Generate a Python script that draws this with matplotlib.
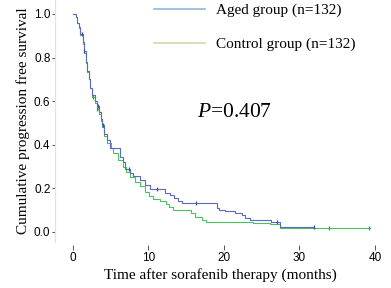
import matplotlib
matplotlib.use("Agg")
import matplotlib.pyplot as plt
from matplotlib.lines import Line2D

plt.rcParams["mathtext.fontset"] = "custom"
plt.rcParams["mathtext.it"] = "Liberation Serif:italic"
plt.rcParams["mathtext.rm"] = "Liberation Serif"

# Aged group (n=132): step times and survival levels
aged_t = [0, 0.4, 0.6, 0.8, 1.0, 1.3, 1.5, 1.7, 1.9, 2.1, 2.3, 2.6, 2.9, 3.2, 3.5, 3.7, 3.9, 4.2, 4.5,
          4.9, 6.3, 6.6, 6.9, 7.6, 8.0, 8.9, 9.6, 10.2, 12.2, 12.9, 13.4, 13.9, 14.4, 19.05, 19.4,
          20.1, 21.5, 22.4, 22.8, 23.5, 26.3, 27.4, 32.0]
aged_s = [1.0, 0.985, 0.96, 0.94, 0.91, 0.87, 0.83, 0.78, 0.74, 0.70, 0.66, 0.63, 0.60, 0.58, 0.55,
          0.52, 0.49, 0.45, 0.42, 0.385, 0.345, 0.32, 0.29, 0.27, 0.255, 0.24, 0.217, 0.198, 0.18,
          0.168, 0.155, 0.143, 0.132, 0.11, 0.10, 0.094, 0.086, 0.078, 0.063, 0.055, 0.047, 0.022, 0.022]
aged_cens_t = [1.2, 1.5, 3.3, 4.0, 7.4, 11.1, 16.3, 27.1, 31.9]

# Control group (n=132)
ctrl_t = [0, 0.4, 0.6, 0.8, 1.0, 1.3, 1.5, 1.7, 1.9, 2.1, 2.3, 2.6, 2.9, 3.2, 3.5, 3.7, 3.9, 4.2, 4.5,
          5.0, 5.3, 6.0, 6.7, 7.1, 7.6, 8.2, 8.9, 9.5, 10.1, 10.6, 11.5, 12.4, 12.8, 13.3, 15.6, 16.2,
          17.1, 17.6, 23.8, 26.1, 27.4, 39.3]
ctrl_s = [1.0, 0.985, 0.96, 0.935, 0.905, 0.86, 0.82, 0.775, 0.735, 0.70, 0.66, 0.62, 0.59, 0.565,
          0.54, 0.51, 0.48, 0.44, 0.41, 0.385, 0.36, 0.33, 0.30, 0.275, 0.25, 0.23, 0.21, 0.185, 0.165,
          0.15, 0.143, 0.13, 0.115, 0.10, 0.088, 0.07, 0.055, 0.045, 0.04, 0.036, 0.02, 0.02]
ctrl_cens_t = [2.7, 3.2, 33.9, 39.2]

x_ticks = [0, 10, 20, 30, 40]
y_ticks = [0.0, 0.2, 0.4, 0.6, 0.8, 1.0]
p_value = "0.407"

def surv_at(ts, ss, t):
    v = ss[0]
    for ti, si in zip(ts, ss):
        if ti <= t:
            v = si
    return v

blue = "#5a6cc0"
green = "#4cc25e"
blue_leg = "#8fb6dc"
green_leg = "#cddcae"

fig = plt.figure(figsize=(3.91, 2.88), dpi=100)
ax = fig.add_axes([0.1407, 0.1597, 0.847, 0.8403])

ax.step(aged_t, aged_s, where="post", color=blue, lw=0.8, zorder=3)
ax.step(ctrl_t, ctrl_s, where="post", color=green, lw=0.8, zorder=2)
ax.plot(aged_cens_t, [surv_at(aged_t, aged_s, t) for t in aged_cens_t], ls="none",
        marker="|", ms=3, mew=0.9, color="#3f4f9a", zorder=4)
ax.plot(ctrl_cens_t, [surv_at(ctrl_t, ctrl_s, t) for t in ctrl_cens_t], ls="none",
        marker="|", ms=3, mew=0.9, color="#3a9a4a", zorder=4)

ax.set_xlim(-2.35, 41.5)
ax.set_ylim(-0.046, 1.064)

for s in ["top", "right"]:
    ax.spines[s].set_visible(False)
ax.spines["left"].set_color("#e2e2e2")
ax.spines["left"].set_linewidth(0.8)
ax.spines["bottom"].set_position(("outward", 2))
ax.spines["bottom"].set_visible(False)

ax.set_xticks(x_ticks)
ax.set_yticks(y_ticks)
ax.set_xticklabels([str(v) for v in x_ticks], family="Liberation Sans", fontsize=8.5)
ax.set_yticklabels(["%.1f" % v for v in y_ticks], family="Liberation Sans", fontsize=8.5)
ax.tick_params(axis="x", direction="out", length=3.5, width=0.7, color="#555555", pad=1.5)
ax.tick_params(axis="y", direction="out", length=2.5, width=0.7, color="#555555", pad=0.8)

ax.set_xlabel("Time after sorafenib therapy (months)", family="Liberation Serif", fontsize=11, labelpad=3)
ax.set_ylabel("Cumulative progression free survival", family="Liberation Serif", fontsize=11, labelpad=3)

# legend
fig.add_artist(Line2D([154/391, 205/391], [1 - 9/288, 1 - 9/288], color=blue_leg, lw=1.2))
fig.add_artist(Line2D([154/391, 205/391], [1 - 43/288, 1 - 43/288], color=green_leg, lw=1.2))
fig.text(216/391, 1 - 10/288, "Aged group (n=132)", family="Liberation Serif", fontsize=11, va="center")
fig.text(216/391, 1 - 44/288, "Control group (n=132)", family="Liberation Serif", fontsize=11, va="center")

fig.text(197/391, 1 - 117/288, "$P$=" + p_value, family="Liberation Serif", fontsize=15.5, va="baseline")

fig.savefig("out.png", dpi=100)
